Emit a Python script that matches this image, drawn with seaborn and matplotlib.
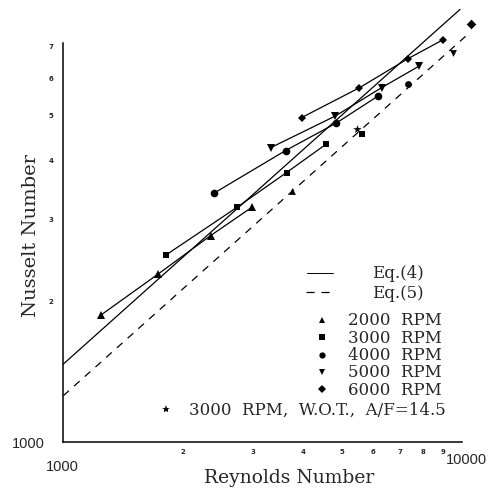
import numpy as np
import pandas as pd
import matplotlib
matplotlib.use("Agg")
import matplotlib.pyplot as plt
from matplotlib.lines import Line2D
import seaborn as sns

# --- data (Reynolds, Nusselt) ---
re_2000 = [1243, 1729, 2342, 2968]
nu_2000 = [18.65, 22.80, 27.54, 31.62]
re_3000 = [1807, 2724, 3634, 4564]
nu_3000 = [25.02, 31.62, 37.54, 43.13]
re_4000 = [2389, 3613, 4836, 6154]
nu_4000 = [33.92, 41.82, 47.82, 54.60]
re_5000 = [3312, 4808, 6297, 7827]
nu_5000 = [42.40, 49.50, 56.96, 63.35]
re_6000 = [3967, 5533, 7318, 8952]
nu_6000 = [49.18, 56.91, 65.61, 71.95]

# single points sitting near Eq.(5)
single_re = [3741, 5620, 7345, 9482, 10551]
single_nu = [34.34, 45.41, 57.90, 67.66, 77.71]
single_mk = ["^", "s", "o", "v", "D"]

# W.O.T. point
wot_re = [5461]
wot_nu = [46.54]

# correlation lines (end points)
eq4_re = [1000, 9900]
eq4_nu = [14.66, 83.6]
eq5_re = [1000, 10490]
eq5_nu = [12.55, 74.7]

x_minor = [2000, 3000, 4000, 5000, 6000, 7000, 8000, 9000]
x_minor_lbl = ["2", "3", "4", "5", "6", "7", "8", "9"]
y_minor = [20, 30, 40, 50, 60, 70]
y_minor_lbl = ["2", "3", "4", "5", "6", "7"]

legend_rpm = ["2000  RPM", "3000  RPM", "4000  RPM", "5000  RPM", "6000  RPM"]
legend_mk = ["^", "s", "o", "v", "D"]

sns.set_style("white")
plt.rcParams["font.family"] = ["DejaVu Serif"]

W, H = 491, 489
fig = plt.figure(figsize=(W / 100, H / 100), dpi=100)
ax = fig.add_axes([63.3 / W, 1 - 443 / H, 427.7 / W, 443 / H])


def fp(x, y):
    # pixel -> figure fraction
    return x / W, 1 - y / H


ax.set_xscale("log")
ax.set_yscale("log")

lw = 0.9
sns.lineplot(x=eq4_re, y=eq4_nu, color="k", lw=lw, ax=ax)
sns.lineplot(x=eq5_re, y=eq5_nu, color="k", lw=lw, ax=ax)
ax.lines[-1].set_dashes((6, 5.5))

series = [(re_2000, nu_2000, "^", 5.5), (re_3000, nu_3000, "s", 4.5),
          (re_4000, nu_4000, "o", 5.5), (re_5000, nu_5000, "v", 5.5),
          (re_6000, nu_6000, "D", 4.5)]
for xs, ys, mk, ms in series:
    df = pd.DataFrame({"Re": xs, "Nu": ys})
    sns.lineplot(data=df, x="Re", y="Nu", sort=False, color="k", lw=lw,
                 marker=mk, markersize=ms, markeredgewidth=0, ax=ax)

for x, y, mk in zip(single_re, single_nu, single_mk):
    sns.scatterplot(x=[x], y=[y], marker=mk, color="k", s=24, linewidth=0, ax=ax)
sns.scatterplot(x=wot_re, y=wot_nu, marker="*", color="k", s=40, linewidth=0, ax=ax)

ax.set_xlabel("")
ax.set_ylabel("")
ax.set_xlim(1000, 11844)
ax.set_ylim(10, 88)
sns.despine(ax=ax)
ax.spines["left"].set_bounds(10, 71)
ax.spines["bottom"].set_bounds(1000, 10000)
for s in ("left", "bottom"):
    ax.spines[s].set_linewidth(1.1)
    ax.spines[s].set_color("k")

ax.set_xticks([1000, 10000], labels=["", ""])
ax.set_yticks([10], labels=[""])
ax.set_xticks(x_minor, labels=x_minor_lbl, minor=True)
ax.set_yticks(y_minor, labels=y_minor_lbl, minor=True)
ax.tick_params(which="both", direction="out", color="k", width=0.9)
ax.tick_params(axis="x", which="major", length=4)
ax.tick_params(axis="x", which="minor", length=3, pad=1, labelsize=5)
ax.tick_params(axis="y", which="major", length=5)
ax.tick_params(axis="y", which="minor", length=4, pad=3, labelsize=5)
for t in ax.get_xticklabels(minor=True) + ax.get_yticklabels(minor=True):
    t.set_fontweight("bold")
    t.set_family("DejaVu Sans")

# major labels
fig.text(*fp(62.5, 467), "1000", ha="center", va="center", fontsize=10.5,
         family="Liberation Sans")
fig.text(*fp(466, 460), "10000", ha="center", va="center", fontsize=10.5,
         family="Liberation Sans")
fig.text(*fp(28, 444), "1000", ha="center", va="center", fontsize=10.5,
         family="Liberation Sans")

fig.text(*fp(289, 478), "Reynolds Number", ha="center", va="center", fontsize=13.5)
fig.text(*fp(31, 236), "Nusselt Number", ha="center", va="center", fontsize=14,
         rotation=90)

# legend
fig.add_artist(Line2D([307 / W, 333 / W], [1 - 274 / H] * 2, color="k", lw=0.7))
fig.add_artist(Line2D([306 / W, 333 / W], [1 - 293 / H] * 2, color="k", lw=0.9,
                      dashes=(6.5, 5.5)))
fig.text(*fp(371.7, 274), "Eq.(4)", ha="left", va="center", fontsize=12)
fig.text(*fp(371.7, 293), "Eq.(5)", ha="left", va="center", fontsize=12)
for i, (lbl, mk) in enumerate(zip(legend_rpm, legend_mk)):
    yy = 321 + i * 17.3
    fig.add_artist(Line2D([321.7 / W], [1 - yy / H], marker=mk, color="k",
                          markersize=4.5 if mk != "D" else 3.8, markeredgewidth=0))
    fig.text(*fp(348.3, yy), lbl, ha="left", va="center", fontsize=12)
fig.add_artist(Line2D([166 / W], [1 - 410 / H], marker="*", color="k",
                      markersize=6, markeredgewidth=0))
fig.text(*fp(189.3, 410), "3000  RPM,  W.O.T.,  A/F=14.5", ha="left", va="center",
         fontsize=12)

fig.savefig("out.png", dpi=100)
